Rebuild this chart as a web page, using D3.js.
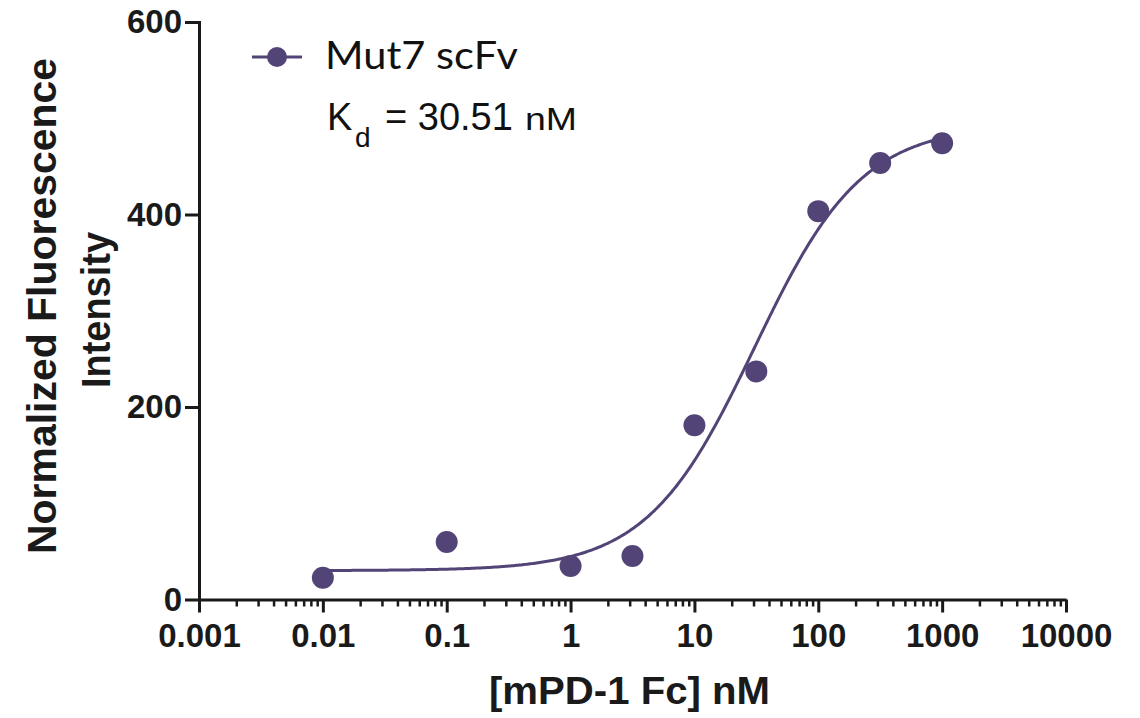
<!DOCTYPE html>
<html>
<head>
<meta charset="utf-8">
<script src="https://cdn.jsdelivr.net/npm/d3@7"></script>
<style>
  html, body { margin: 0; padding: 0; background: #ffffff; }
  svg { display: block; }
  .tick text { font-family: "Liberation Sans", Arial, sans-serif; font-weight: bold; font-size: 33px; fill: #1a1a1a; }
</style>
</head>
<body>
<svg id="chart" width="1140" height="718"></svg>
<script>
// Binding data: concentration of mPD-1 Fc (nM) vs normalized fluorescence
const concentrations = [0.01, 0.1, 1, 3.16, 10, 31.6, 100, 316, 1000];
const intensities    = [22.5, 59.7, 34.8, 45.2, 181, 237, 403.5, 453.5, 474];

// One-site binding fit
const fitKd = 30.51;
const fitBottom = 30;
const fitTop = 493;

// Axis ticks
const xMajorTicks  = [0.001, 0.01, 0.1, 1, 10, 100, 1000, 10000];
const xTickLabels  = ["0.001", "0.01", "0.1", "1", "10", "100", "1000", "10000"];
const yTicks       = [0, 200, 400, 600];

const seriesName = "Mut7 scFv";
const color = "#534477";
const ink = "#1a1a1a";

const svg = d3.select("#chart");

const x = d3.scaleLog().domain([0.001, 10000]).range([199, 1066]);
const y = d3.scaleLinear().domain([0, 600]).range([599.5, 22]);

// minor ticks 2..9 within each decade
const xMinorTicks = [];
for (let i = 0; i < xMajorTicks.length - 1; i++) {
  for (let m = 2; m <= 9; m++) xMinorTicks.push(xMajorTicks[i] * m);
}

// fitted curve
const fit = c => fitBottom + (fitTop - fitBottom) * c / (fitKd + c);
const curveX = d3.range(0, 401).map(i => Math.pow(10, -2 + 5 * i / 400));

svg.append("path")
  .datum(curveX)
  .attr("fill", "none")
  .attr("stroke", color)
  .attr("stroke-width", 3)
  .attr("d", d3.line().x(c => x(c)).y(c => y(fit(c))));

// data points
svg.append("g").selectAll("circle")
  .data(concentrations.map((c, i) => ({ c, v: intensities[i] })))
  .join("circle")
  .attr("cx", d => x(d.c))
  .attr("cy", d => y(d.v))
  .attr("r", 11)
  .attr("fill", color);

// minor x ticks
const xMinor = svg.append("g")
  .attr("transform", `translate(0,${y(0)})`)
  .call(d3.axisBottom(x).tickValues(xMinorTicks).tickSize(7).tickFormat(""));
xMinor.select(".domain").remove();
xMinor.selectAll("line").attr("stroke", ink).attr("stroke-width", 2.5);

// major x axis
const xAxis = svg.append("g")
  .attr("transform", `translate(0,${y(0)})`)
  .call(d3.axisBottom(x).tickValues(xMajorTicks).tickSize(13).tickSizeOuter(0)
        .tickPadding(11).tickFormat((d, i) => xTickLabels[i]));
xAxis.select(".domain").attr("stroke", ink).attr("stroke-width", 3);
xAxis.selectAll("line").attr("stroke", ink).attr("stroke-width", 3);

// y axis
const yAxis = svg.append("g")
  .attr("transform", `translate(${x(0.001)},0)`)
  .call(d3.axisLeft(y).tickValues(yTicks).tickSize(14).tickSizeOuter(0).tickPadding(3));
yAxis.select(".domain").attr("stroke", ink).attr("stroke-width", 3).attr("stroke-linecap", "square");
yAxis.selectAll("line").attr("stroke", ink).attr("stroke-width", 3);

// axis titles
const titleFont = "'Liberation Sans', Arial, sans-serif";
svg.append("text")
  .attr("x", 489).attr("y", 704)
  .attr("textLength", 281).attr("lengthAdjust", "spacingAndGlyphs")
  .attr("font-family", titleFont).attr("font-weight", "bold").attr("font-size", 39)
  .attr("fill", ink)
  .text("[mPD-1 Fc] nM");

const yTitle = svg.append("g").attr("transform", "rotate(-90)");
yTitle.append("text")
  .attr("x", -554).attr("y", 56)
  .attr("textLength", 496).attr("lengthAdjust", "spacingAndGlyphs")
  .attr("font-family", titleFont).attr("font-weight", "bold").attr("font-size", 40)
  .attr("fill", ink)
  .text("Normalized Fluorescence");
yTitle.append("text")
  .attr("x", -388).attr("y", 110)
  .attr("textLength", 156).attr("lengthAdjust", "spacingAndGlyphs")
  .attr("font-family", titleFont).attr("font-weight", "bold").attr("font-size", 40)
  .attr("fill", ink)
  .text("Intensity");

// legend
const legend = svg.append("g");
legend.append("line")
  .attr("x1", 252).attr("x2", 302).attr("y1", 57).attr("y2", 57)
  .attr("stroke", color).attr("stroke-width", 3);
legend.append("circle")
  .attr("cx", 277).attr("cy", 57).attr("r", 10).attr("fill", color);
legend.append("text")
  .attr("x", 325).attr("y", 69)
  .attr("textLength", 193).attr("lengthAdjust", "spacingAndGlyphs")
  .attr("font-family", "Lato, 'Open Sans', sans-serif").attr("font-size", 38)
  .attr("fill", "#111")
  .text(seriesName);

// dissociation constant annotation
const kdFont = "'Liberation Sans', Arial, sans-serif";
legend.append("text")
  .attr("x", 327).attr("y", 130)
  .attr("font-family", kdFont).attr("font-size", 38).attr("fill", "#111")
  .text("K");
legend.append("text")
  .attr("x", 355).attr("y", 147)
  .attr("font-family", kdFont).attr("font-size", 28).attr("fill", "#111")
  .text("d");
legend.append("text")
  .attr("x", 385).attr("y", 130)
  .attr("font-family", kdFont).attr("font-size", 38).attr("fill", "#111")
  .text(`= ${fitKd}`);
legend.append("text")
  .attr("x", 525).attr("y", 130)
  .attr("textLength", 52).attr("lengthAdjust", "spacingAndGlyphs")
  .attr("font-family", kdFont).attr("font-size", 31).attr("fill", "#111")
  .text("nM");
</script>
</body>
</html>
